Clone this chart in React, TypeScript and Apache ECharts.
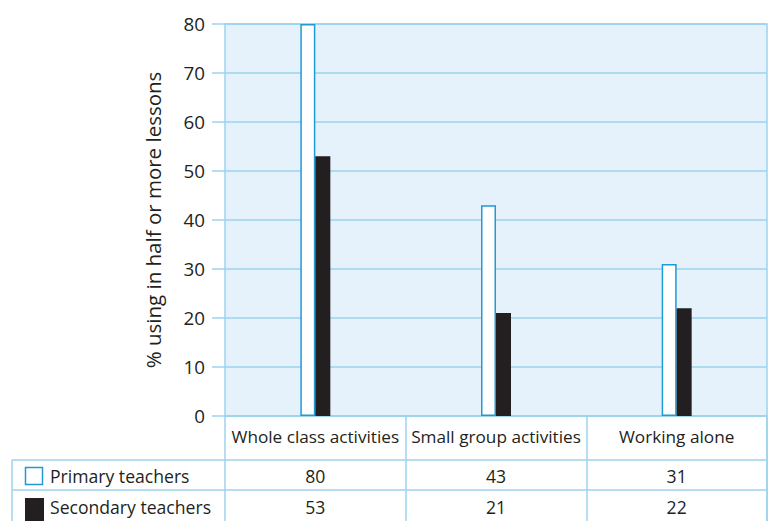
import React, { useEffect, useRef } from "react";
import * as echarts from "echarts";

const categories = ["Whole class activities", "Small group activities", "Working alone"];
const seriesNames = ["Primary teachers", "Secondary teachers"];
const primaryValues = [80, 43, 31];
const secondaryValues = [53, 21, 22];
const yMin = 0;
const yMax = 80;
const yStep = 10;
const yTitle = "% using in half or more lessons";

const FONT = "'Open Sans', 'Noto Sans', sans-serif";
const TEXT = "#231f20";
const BLUE_LINE = "#9dd3ee";
const BAR_BLUE = "#1e9ad6";
const BG = "#e5f2fb";

export default function App() {
  const ref = useRef<HTMLDivElement>(null);

  useEffect(() => {
    if (!ref.current) return;
    const chart = echarts.init(ref.current, null, { renderer: "svg" });
    const gridLeft = 225;
    const gridRight = 3;
    const gridTop = 24;
    const gridBottom = 105;
    const W = 770;
    const H = 521;
    const axisY = H - gridBottom;

    chart.setOption({
      animation: false,
      textStyle: { fontFamily: FONT },
      grid: {
        left: gridLeft,
        right: gridRight,
        top: gridTop,
        bottom: gridBottom,
        show: true,
        backgroundColor: BG,
        borderColor: BLUE_LINE,
        borderWidth: 1.5,
      },
      xAxis: {
        type: "category",
        data: categories,
        boundaryGap: true,
        axisLine: { show: true, lineStyle: { color: BLUE_LINE, width: 1.5 } },
        axisTick: { show: true, alignWithLabel: false, length: gridBottom, lineStyle: { color: BLUE_LINE, width: 1.5 } },
        axisLabel: { fontSize: 17.2, color: TEXT, margin: 12, interval: 0, fontFamily: FONT },
      },
      yAxis: {
        type: "value",
        min: yMin,
        max: yMax,
        interval: yStep,
        name: yTitle,
        nameLocation: "middle",
        nameRotate: 90,
        nameGap: 62,
        nameTextStyle: { fontSize: 20.5, color: TEXT, fontFamily: FONT },
        axisLine: { show: false },
        axisTick: { show: true, length: 13, lineStyle: { color: BLUE_LINE, width: 1.5 } },
        splitLine: { show: true, lineStyle: { color: BLUE_LINE, width: 1.5 } },
        axisLabel: { fontSize: 18.8, color: TEXT, margin: 20, fontFamily: FONT },
      },
      series: [
        {
          name: seriesNames[0],
          type: "bar",
          data: primaryValues,
          barWidth: 15,
          barGap: "0%",
          itemStyle: { color: "#ffffff", borderColor: BAR_BLUE, borderWidth: 1.5 },
        },
        {
          name: seriesNames[1],
          type: "bar",
          data: secondaryValues,
          barWidth: 15,
          barGap: "0%",
          itemStyle: { color: TEXT },
        },
      ],
    });

    const centers = categories.map((c) => chart.convertToPixel({ xAxisIndex: 0 }, c) as number);
    const tableLeft = 12;
    const tableRight = W - gridRight;
    const row1Top = 460;
    const row2Top = 490;
    const rowBottom = H;
    const lineStyle = { stroke: BLUE_LINE, lineWidth: 1.5 };
    const rows = [
      { name: seriesNames[0], values: primaryValues, top: row1Top, bottom: row2Top },
      { name: seriesNames[1], values: secondaryValues, top: row2Top, bottom: rowBottom },
    ];

    const graphics: any[] = [
      { type: "line", shape: { x1: tableLeft, y1: row1Top, x2: tableRight, y2: row1Top }, style: lineStyle, silent: true },
      { type: "line", shape: { x1: tableLeft, y1: row2Top, x2: tableRight, y2: row2Top }, style: lineStyle, silent: true },
      { type: "line", shape: { x1: tableLeft, y1: row1Top, x2: tableLeft, y2: rowBottom }, style: lineStyle, silent: true },
      { type: "line", shape: { x1: tableRight, y1: axisY, x2: tableRight, y2: rowBottom }, style: lineStyle, silent: true },
      {
        type: "rect",
        shape: { x: 25.5, y: 467.5, width: 17, height: 17 },
        style: { fill: "#ffffff", stroke: BAR_BLUE, lineWidth: 1.5 },
        silent: true,
      },
      {
        type: "rect",
        shape: { x: 25, y: 498, width: 19, height: 23 },
        style: { fill: TEXT },
        silent: true,
      },
    ];
    rows.forEach((r) => {
      const cy = (r.top + r.bottom) / 2 + 1;
      graphics.push({
        type: "text",
        x: 50,
        y: cy,
        style: { text: r.name, fontSize: 17.6, fill: TEXT, fontFamily: FONT, textAlign: "left", textVerticalAlign: "middle" },
        silent: true,
      });
      r.values.forEach((v, i) => {
        graphics.push({
          type: "text",
          x: centers[i],
          y: cy,
          style: { text: String(v), fontSize: 17.6, fill: TEXT, fontFamily: FONT, textAlign: "center", textVerticalAlign: "middle" },
          silent: true,
        });
      });
    });
    chart.setOption({ graphic: graphics });

    return () => chart.dispose();
  }, []);

  return (
    <div
      ref={ref}
      style={{ position: "fixed", left: 0, top: 0, width: 770, height: 521, background: "#ffffff" }}
    />
  );
}
